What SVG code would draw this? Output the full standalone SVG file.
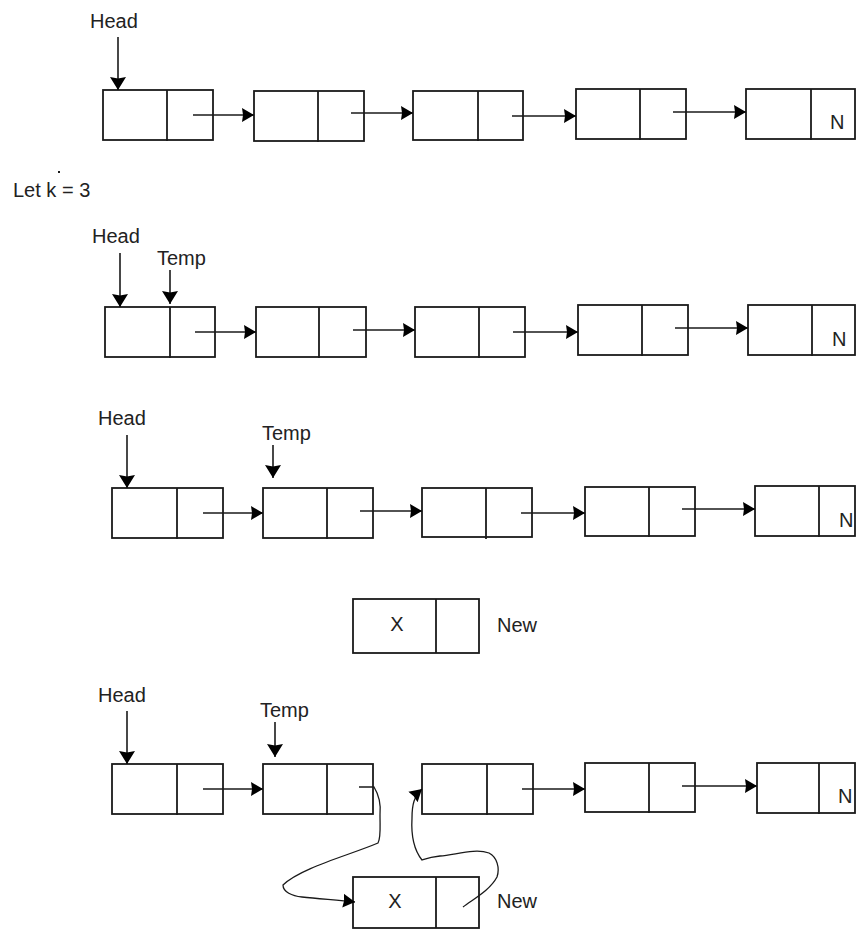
<svg xmlns="http://www.w3.org/2000/svg" width="856" height="930" viewBox="0 0 856 930">
  <style>
    .cell { fill: #fff; stroke: #1a1a1a; stroke-width: 1.8; }
    .div { stroke: #1a1a1a; stroke-width: 1.8; }
    .link { fill: none; stroke: #1a1a1a; stroke-width: 1.6; marker-end: url(#ah); }
    .ptr { fill: none; stroke: #1a1a1a; stroke-width: 1.6; marker-end: url(#av); }
    .curve { fill: none; stroke: #1a1a1a; stroke-width: 1.3; marker-end: url(#ah); }
    text { font-family: "Liberation Sans", Arial, sans-serif; font-size: 20px; fill: #222; }
  </style>
  <defs>
    <!-- solid arrowheads: horizontal links and vertical pointers -->
    <marker id="ah" markerUnits="userSpaceOnUse" viewBox="0 -8 13 16" refX="12" refY="0" markerWidth="13" markerHeight="16" orient="auto">
      <path d="M0,-7 L12,0 L0,7 L1,0 Z" fill="#000"/>
    </marker>
    <marker id="av" markerUnits="userSpaceOnUse" viewBox="0 -9 14 18" refX="13" refY="0" markerWidth="14" markerHeight="18" orient="auto">
      <path d="M0,-8 L13,0 L0,8 L1.5,0 Z" fill="#000"/>
    </marker>
  </defs>

  <!-- List 1 -->
  <g id="list1">
    <text x="90" y="28">Head</text>
    <g id="l1n1"><rect class="cell" x="103" y="90" width="110" height="50"/><line class="div" x1="167" y1="90" x2="167" y2="141"/></g>
    <g id="l1n2"><rect class="cell" x="254" y="91" width="110" height="50"/><line class="div" x1="318" y1="91" x2="318" y2="142"/></g>
    <g id="l1n3"><rect class="cell" x="413" y="91" width="110" height="49"/><line class="div" x1="478" y1="91" x2="478" y2="141"/></g>
    <g id="l1n4"><rect class="cell" x="576" y="89" width="110" height="50"/><line class="div" x1="640" y1="89" x2="640" y2="140"/></g>
    <g id="l1n5"><rect class="cell" x="746" y="89" width="109" height="50"/><line class="div" x1="811" y1="89" x2="811" y2="140"/><text x="830" y="129">N</text></g>
  </g>

  <text x="13" y="197">Let k = 3</text>
  <rect x="58" y="171" width="2" height="2" fill="#1a1a1a"/>

  <!-- List 2 -->
  <g id="list2">
    <text x="92" y="243">Head</text>
    <text x="157" y="265">Temp</text>
    <g id="l2n1"><rect class="cell" x="105" y="307" width="110" height="50"/><line class="div" x1="170" y1="307" x2="170" y2="358"/></g>
    <g id="l2n2"><rect class="cell" x="256" y="307" width="110" height="50"/><line class="div" x1="319" y1="307" x2="319" y2="358"/></g>
    <g id="l2n3"><rect class="cell" x="415" y="307" width="110" height="50"/><line class="div" x1="479" y1="307" x2="479" y2="358"/></g>
    <g id="l2n4"><rect class="cell" x="578" y="305" width="110" height="50"/><line class="div" x1="642" y1="305" x2="642" y2="356"/></g>
    <g id="l2n5"><rect class="cell" x="748" y="305" width="107" height="50"/><line class="div" x1="812" y1="305" x2="812" y2="356"/><text x="832" y="346">N</text></g>
  </g>

  <!-- List 3 -->
  <g id="list3">
    <text x="98" y="425">Head</text>
    <text x="262" y="440">Temp</text>
    <g id="l3n1"><rect class="cell" x="112" y="488" width="111" height="50"/><line class="div" x1="177" y1="488" x2="177" y2="539"/></g>
    <g id="l3n2"><rect class="cell" x="263" y="488" width="110" height="50"/><line class="div" x1="327" y1="488" x2="327" y2="539"/></g>
    <g id="l3n3"><rect class="cell" x="422" y="488" width="110" height="49"/><line class="div" x1="486" y1="488" x2="486" y2="539"/></g>
    <g id="l3n4"><rect class="cell" x="585" y="487" width="110" height="49"/><line class="div" x1="649" y1="487" x2="649" y2="537"/></g>
    <g id="l3n5"><rect class="cell" x="755" y="486" width="100" height="50"/><line class="div" x1="819" y1="486" x2="819" y2="537"/><text x="839" y="527">N</text></g>
  </g>

  <!-- New node -->
  <g id="newnode">
    <rect class="cell" x="353" y="599" width="126" height="54"/>
    <line class="div" x1="436" y1="599" x2="436" y2="653"/>
    <text x="397" y="631" text-anchor="middle">X</text>
    <text x="497" y="632">New</text>
  </g>

  <!-- List 4 -->
  <g id="list4">
    <text x="98" y="702">Head</text>
    <text x="260" y="717">Temp</text>
    <g id="l4n1"><rect class="cell" x="112" y="764" width="111" height="50"/><line class="div" x1="177" y1="764" x2="177" y2="815"/></g>
    <g id="l4n2"><rect class="cell" x="263" y="764" width="110" height="50"/><line class="div" x1="327" y1="764" x2="327" y2="815"/></g>
    <g id="l4n3"><rect class="cell" x="422" y="764" width="111" height="50"/><line class="div" x1="487" y1="764" x2="487" y2="815"/></g>
    <g id="l4n4"><rect class="cell" x="585" y="763" width="110" height="49"/><line class="div" x1="649" y1="763" x2="649" y2="813"/></g>
    <g id="l4n5"><rect class="cell" x="757" y="763" width="98" height="50"/><line class="div" x1="819" y1="763" x2="819" y2="814"/><text x="838" y="803">N</text></g>
    <g id="l4new">
      <rect class="cell" x="353" y="877" width="126" height="51"/>
      <line class="div" x1="436" y1="877" x2="436" y2="928"/>
      <text x="395" y="908" text-anchor="middle">X</text>
      <text x="497" y="908">New</text>
    </g>
  </g>

  <!-- Connectors -->
  <g id="connectors">
    <!-- list 1 -->
    <path class="ptr" d="M118,37 L118,90"/>
    <path class="link" d="M193,115 L254,115"/>
    <path class="link" d="M351,113 L413,113"/>
    <path class="link" d="M512,116 L576,116"/>
    <path class="link" d="M673,112 L746,112"/>
    <!-- list 2 -->
    <path class="ptr" d="M120,253 L120,307"/>
    <path class="ptr" d="M170,270 L170,304"/>
    <path class="link" d="M195,332 L256,332"/>
    <path class="link" d="M353,330 L415,330"/>
    <path class="link" d="M513,332 L578,332"/>
    <path class="link" d="M675,328 L748,328"/>
    <!-- list 3 -->
    <path class="ptr" d="M127,435 L127,488"/>
    <path class="ptr" d="M273,445 L273,478"/>
    <path class="link" d="M203,513 L263,513"/>
    <path class="link" d="M360,511 L422,511"/>
    <path class="link" d="M521,513 L585,513"/>
    <path class="link" d="M682,509 L755,509"/>
    <!-- list 4 -->
    <path class="ptr" d="M127,711 L127,764"/>
    <path class="ptr" d="M275,722 L275,757"/>
    <path class="link" d="M203,789 L263,789"/>
    <path class="link" d="M522,789 L585,789"/>
    <path class="link" d="M682,786 L757,786"/>
    <!-- Temp's next to New -->
    <path class="curve" d="M359,787 L374,787 C379,795 381,805 380,815 C380,828 381,838 378,843 C350,855 300,868 283,885 C283,892 292,896 302,897 C320,899 338,900 355,902"/>
    <!-- New's next to the following node -->
    <path class="curve" d="M463,907 C475,898 490,890 497,877 C500,868 497,857 489,853 C475,848 455,855 440,856 C430,857 425,859 422,860 C414,850 411,835 412,818 C412,805 414,796 422,789"/>
  </g>
</svg>
